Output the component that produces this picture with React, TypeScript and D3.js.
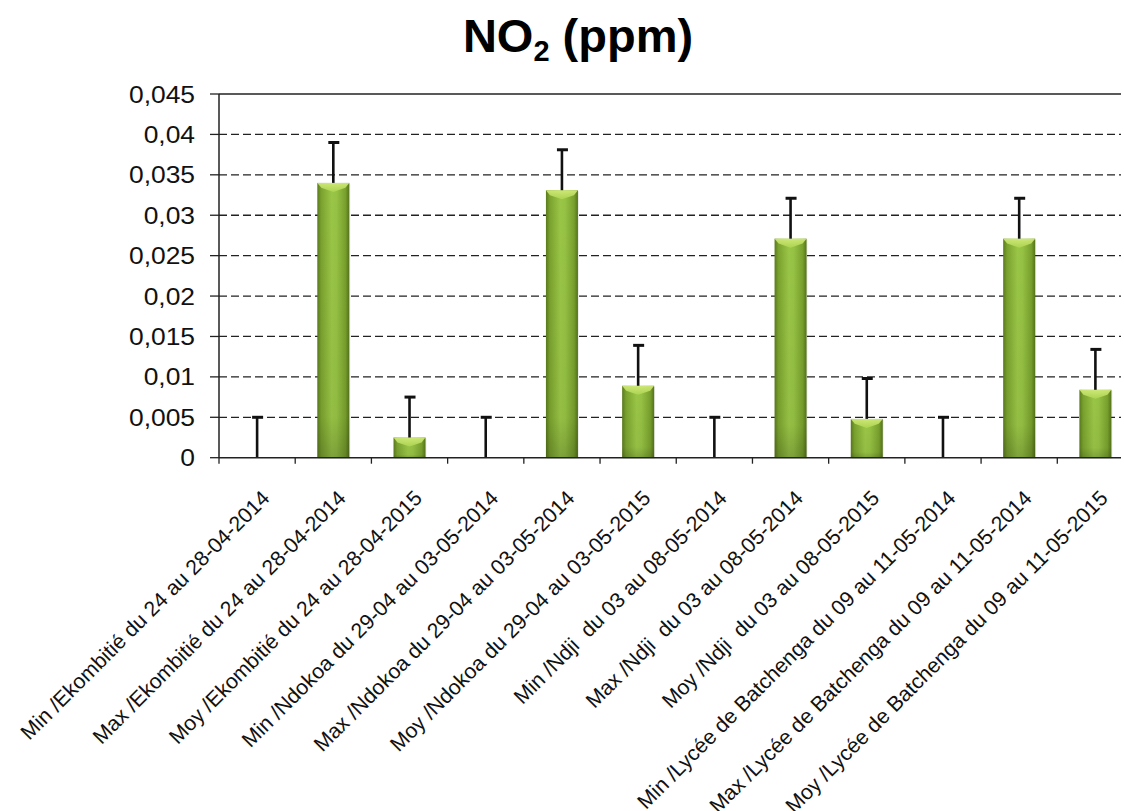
import React from "react";
import * as d3 from "d3";

const categories: string[] = [
  "Min /Ekombitié du 24 au 28-04-2014",
  "Max /Ekombitié du 24 au 28-04-2014",
  "Moy /Ekombitié du 24 au 28-04-2015",
  "Min /Ndokoa du 29-04 au 03-05-2014",
  "Max /Ndokoa du 29-04 au 03-05-2014",
  "Moy /Ndokoa du 29-04 au 03-05-2015",
  "Min /Ndji  du 03 au 08-05-2014",
  "Max /Ndji  du 03 au 08-05-2014",
  "Moy /Ndji  du 03 au 08-05-2015",
  "Min /Lycée de Batchenga du 09 au 11-05-2014",
  "Max /Lycée de Batchenga du 09 au 11-05-2014",
  "Moy /Lycée de Batchenga du 09 au 11-05-2015",
];

const values: number[] = [0, 0.034, 0.0025, 0, 0.0331, 0.0089, 0, 0.0271, 0.0048, 0, 0.0271, 0.0084];
const errors: number[] = [0.005, 0.005, 0.005, 0.005, 0.005, 0.005, 0.005, 0.005, 0.005, 0.005, 0.005, 0.005];

const yTicks: number[] = [0, 0.005, 0.01, 0.015, 0.02, 0.025, 0.03, 0.035, 0.04, 0.045];
const yTickLabels: string[] = ["0", "0,005", "0,01", "0,015", "0,02", "0,025", "0,03", "0,035", "0,04", "0,045"];

const W = 1124;
const H = 811;
const left = 219;
const top = 94;
const bottom = 457.7;
const axisRight = 1121;
const bandRight = 1133.5;

export default function App() {
  const x = d3.scaleBand<string>().domain(categories).range([left, bandRight]).padding(0);
  const y = d3.scaleLinear().domain([0, 0.045]).range([bottom, top]);
  const bw = x.bandwidth() * 0.42;
  const font = "Arial, 'Liberation Sans', sans-serif";

  return (
    <svg
      width={W}
      height={H}
      style={{ position: "absolute", left: 0, top: 0, background: "#fff" }}
      fontFamily={font}
    >
      <defs>
        <linearGradient id="barG" x1="0" x2="1" y1="0" y2="0">
          <stop offset="0%" stopColor="#5a7a1c" />
          <stop offset="12%" stopColor="#7aa22e" />
          <stop offset="45%" stopColor="#9ac647" />
          <stop offset="60%" stopColor="#96c244" />
          <stop offset="88%" stopColor="#78a02d" />
          <stop offset="100%" stopColor="#55731a" />
        </linearGradient>
        <linearGradient id="capG" x1="0" x2="0" y1="0" y2="1">
          <stop offset="0%" stopColor="#d3ec7c" />
          <stop offset="100%" stopColor="#aed552" />
        </linearGradient>
        <linearGradient id="shadeG" x1="0" x2="0" y1="0" y2="1">
          <stop offset="0%" stopColor="#000" stopOpacity="0" />
          <stop offset="85%" stopColor="#000" stopOpacity="0.04" />
          <stop offset="100%" stopColor="#000" stopOpacity="0.18" />
        </linearGradient>
      </defs>

      {/* Title */}
      <text x={578} y={52} textAnchor="middle" fontSize={47} fontWeight="bold" fill="#000">
        NO
        <tspan fontSize={29} dy={9}>2</tspan>
        <tspan dy={-9}> (ppm)</tspan>
      </text>

      {/* Grid lines */}
      {yTicks.map((t, i) =>
        t > 0 && t < 0.045 ? (
          <line
            key={"g" + i}
            x1={left}
            x2={axisRight}
            y1={y(t)}
            y2={y(t)}
            stroke="#222"
            strokeWidth={1.3}
            strokeDasharray="8 4"
          />
        ) : null
      )}
      {/* Top border */}
      <line x1={left} x2={axisRight} y1={y(0.045)} y2={y(0.045)} stroke="#222" strokeWidth={1.4} />

      {/* Y ticks & labels */}
      {yTicks.map((t, i) => (
        <g key={"yt" + i}>
          <line x1={left - 9} x2={left} y1={y(t)} y2={y(t)} stroke="#222" strokeWidth={1.3} />
          <text
            transform={`translate(195, ${y(t) + 8.5}) scale(1.1, 1)`}
            textAnchor="end"
            fontSize={24}
            fill="#111"
          >
            {yTickLabels[i]}
          </text>
        </g>
      ))}

      {/* Bars */}
      {categories.map((c, i) => {
        const cx = (x(c) as number) + x.bandwidth() / 2;
        const v = values[i];
        if (v <= 0) return null;
        const x0 = cx - bw / 2;
        const x1 = cx + bw / 2;
        const yt = y(v);
        const capH = Math.min(9, (bottom - yt) * 0.5);
        return (
          <g key={"b" + i}>
            <rect x={x0 + 1} y={yt + 1} width={bw} height={bottom - yt} fill="#000" opacity={0.08} />
            <rect x={x0} y={yt} width={bw} height={bottom - yt} fill="url(#barG)" />
            <rect x={x0} y={yt} width={bw} height={bottom - yt} fill="url(#shadeG)" />
            <polygon
              points={`${x0},${yt} ${x1},${yt} ${x1 - 4},${yt + capH * 0.55} ${cx},${yt + capH} ${x0 + 4},${yt + capH * 0.55}`}
              fill="url(#capG)"
              opacity={0.9}
            />
          </g>
        );
      })}

      {/* Error bars */}
      {categories.map((c, i) => {
        const cx = (x(c) as number) + x.bandwidth() / 2;
        const v = values[i];
        const e = errors[i];
        return (
          <g key={"e" + i} stroke="#111" strokeWidth={2.6}>
            <line x1={cx} x2={cx} y1={y(v)} y2={y(v + e)} />
            <line x1={cx - 5} x2={cx + 6} y1={y(v + e)} y2={y(v + e)} strokeWidth={3} />
          </g>
        );
      })}

      {/* Axes */}
      <line x1={left} x2={left} y1={top} y2={bottom} stroke="#222" strokeWidth={1.5} />
      <line x1={left} x2={axisRight} y1={bottom} y2={bottom} stroke="#222" strokeWidth={1.5} />
      {categories.map((c, i) => (
        <line
          key={"xt" + i}
          x1={x(c) as number}
          x2={x(c) as number}
          y1={bottom}
          y2={bottom + 6}
          stroke="#222"
          strokeWidth={1.3}
        />
      ))}

      {/* X labels */}
      {categories.map((c, i) => {
        const cx = (x(c) as number) + x.bandwidth() / 2;
        return (
          <text
            key={"xl" + i}
            transform={`translate(${cx + 3}, ${bottom + 31}) rotate(-45)`}
            textAnchor="end"
            dy="0.72em"
            fontSize={21.2}
            fill="#111"
            style={{ whiteSpace: "pre" }}
          >
            {c}
          </text>
        );
      })}
    </svg>
  );
}
